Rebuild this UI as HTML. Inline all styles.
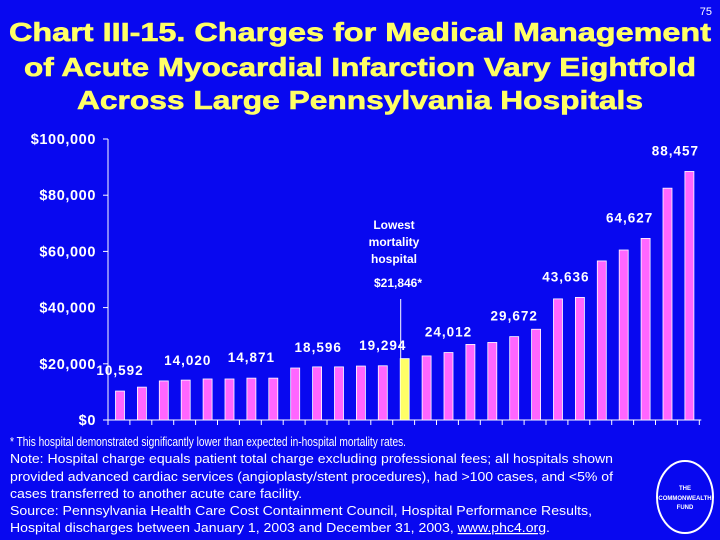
<!DOCTYPE html>
<html><head><meta charset="utf-8"><style>
html,body{margin:0;padding:0;background:#0808f0;}
svg{display:block;font-family:"Liberation Sans",Arial,sans-serif;}
</style></head><body>
<svg width="720" height="540" viewBox="0 0 720 540">
<rect width="720" height="540" fill="#0808f0"/>
<text x="712" y="15" font-size="11" fill="#fff" text-anchor="end">75</text>
<g fill="#ffff66" font-weight="bold" font-size="26" text-anchor="middle" stroke="#ffff66" stroke-width="0.6">
<text x="360" y="41" textLength="702" lengthAdjust="spacingAndGlyphs">Chart III-15. Charges for Medical Management</text>
<text x="360" y="76" textLength="672" lengthAdjust="spacingAndGlyphs">of Acute Myocardial Infarction Vary Eightfold</text>
<text x="360" y="109" textLength="566" lengthAdjust="spacingAndGlyphs">Across Large Pennsylvania Hospitals</text>
</g>
<g id="yaxis"></g>
<g id="xaxis"></g>
<g id="bars"></g>
<g id="labels"></g>
<g fill="#fff" font-weight="bold" font-size="12" text-anchor="middle">
<text x="394" y="229">Lowest</text>
<text x="394" y="246">mortality</text>
<text x="394" y="263">hospital</text>
<text x="398" y="287">$21,846*</text>
</g>
<g fill="#fff" font-size="12.5">
<text x="10" y="446" textLength="396" lengthAdjust="spacingAndGlyphs">* This hospital demonstrated significantly lower than expected in-hospital mortality rates.</text>
<text x="10" y="463" textLength="603" lengthAdjust="spacingAndGlyphs">Note: Hospital charge equals patient total charge excluding professional fees; all hospitals shown</text>
<text x="10" y="481" textLength="603" lengthAdjust="spacingAndGlyphs">provided advanced cardiac services (angioplasty/stent procedures), had &gt;100 cases, and &lt;5% of</text>
<text x="10" y="498" textLength="292" lengthAdjust="spacingAndGlyphs">cases transferred to another acute care facility.</text>
<text x="10" y="515" textLength="582" lengthAdjust="spacingAndGlyphs">Source: Pennsylvania Health Care Cost Containment Council, Hospital Performance Results,</text>
<text x="10" y="532" textLength="540" lengthAdjust="spacingAndGlyphs">Hospital discharges between January 1, 2003 and December 31, 2003, <tspan text-decoration="underline">www.phc4.org</tspan>.</text>
</g>
<g>
<ellipse cx="685" cy="497" rx="28" ry="36" fill="none" stroke="#fff" stroke-width="2"/>
<g fill="#fff" font-size="6" font-weight="bold" text-anchor="middle">
<text x="685" y="490">THE</text>
<text x="685" y="500">COMMONWEALTH</text>
<text x="685" y="509">FUND</text>
</g>
</g>
<script>
const values = [10.3,11.7,13.9,14.2,14.6,14.6,14.9,14.9,18.5,18.9,18.9,19.2,19.294,21.846,22.8,24.012,26.9,27.6,29.672,32.3,43.1,43.636,56.6,60.5,64.627,82.5,88.457];
const highlightIndex = 13;
const yTicks = [0,20,40,60,80,100];
const yTickLabels = ["$0","$20,000","$40,000","$60,000","$80,000","$100,000"];
const labelIdx = [0,2,6,8,12,15,18,21,24,26];
const labelText = ["10,592","14,020","14,871","18,596","19,294","24,012","29,672","43,636","64,627","88,457"];
const labelDx = [0,24,0,23,0,0,0,-14,-16,-14];
const NS="http://www.w3.org/2000/svg";
const y0=420, y100=139, xStart=108, step=21.9, barW=9;
const Y=v=>y0-(y0-y100)*v/100;
const X=i=>xStart+12+i*step;
function mk(tag,attrs,parent){const e=document.createElementNS(NS,tag);for(const k in attrs)e.setAttribute(k,attrs[k]);parent.appendChild(e);return e;}
const ya=document.getElementById('yaxis'), xa=document.getElementById('xaxis'), bg=document.getElementById('bars'), lg=document.getElementById('labels');
mk('line',{x1:xStart,y1:y100,x2:xStart,y2:y0,stroke:'#fff','stroke-width':1},ya);
yTicks.forEach((t,i)=>{
  mk('line',{x1:xStart-5,y1:Y(t),x2:xStart,y2:Y(t),stroke:'#fff'},ya);
  const tx=mk('text',{x:96,y:Y(t)+5,fill:'#fff','font-size':14.5,'font-weight':'bold','text-anchor':'end','letter-spacing':'0.6'},ya);
  tx.textContent=yTickLabels[i];
  
  
});
mk('line',{x1:xStart,y1:y0,x2:xStart+values.length*step+2,y2:y0,stroke:'#fff'},xa);
for(let i=0;i<=values.length;i++){mk('line',{x1:xStart+i*step,y1:y0,x2:xStart+i*step,y2:y0+5,stroke:'#fff'},xa);}
values.forEach((v,i)=>{
  const r=mk('rect',{x:X(i)-barW/2,y:Y(v),width:barW,height:y0-Y(v),fill:i===highlightIndex?'#ffff66':'#ff66ff',stroke:'#fff','stroke-width':0.8},bg);
  
  
});
mk('line',{x1:X(highlightIndex)-4,y1:Y(values[highlightIndex]),x2:X(highlightIndex)-4,y2:299,stroke:'#fff'},bg);
labelIdx.forEach((bi,k)=>{
  const t=mk('text',{x:X(bi)+labelDx[k],y:Y(values[bi])-16,fill:'#fff','font-size':13.5,'font-weight':'bold','text-anchor':'middle','letter-spacing':'1'},lg);
  t.textContent=labelText[k];
  
  
});
</script>
</svg>
</body></html>
